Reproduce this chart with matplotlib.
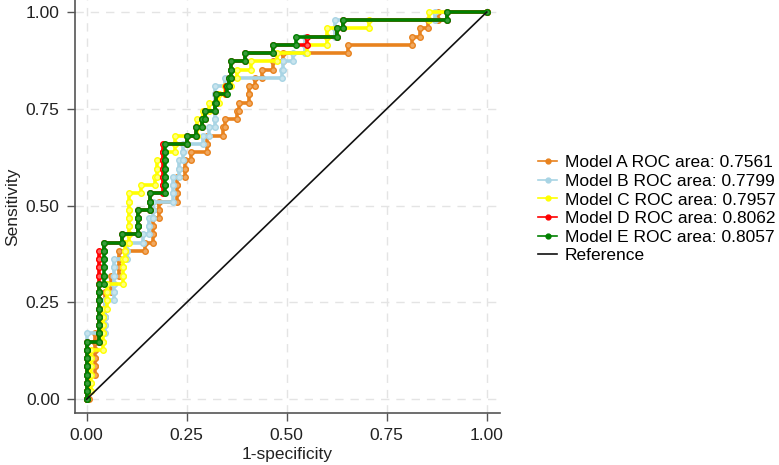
import numpy as np
import matplotlib
matplotlib.use('Agg')
import matplotlib.pyplot as plt
from matplotlib.lines import Line2D

plt.rcParams['font.family'] = ['Liberation Sans', 'DejaVu Sans']

N_POS = 47  # positive cases: one vertical step per case

# fpr at which the curve first reaches k true positives (k = 0..47)
fpr_A = [0, 0.005, 0.005, 0.005, 0.02, 0.02, 0.02, 0.02, 0.02, 0.035,
         0.035, 0.045, 0.045, 0.045, 0.06, 0.06, 0.08, 0.08, 0.08, 0.145,
         0.165, 0.165, 0.165, 0.18, 0.18, 0.225, 0.225, 0.225, 0.245, 0.245,
         0.26, 0.3, 0.3, 0.34, 0.345, 0.375, 0.38, 0.405, 0.405, 0.42,
         0.4375, 0.466, 0.49, 0.654, 0.8125, 0.833, 0.853, 0.878]
fpr_B = [0, 0, 0, 0, 0, 0, 0, 0, 0, 0.045,
         0.045, 0.045, 0.045, 0.068, 0.068, 0.068, 0.068, 0.068, 0.1, 0.1,
         0.14, 0.155, 0.155, 0.165, 0.165, 0.215, 0.215, 0.215, 0.23, 0.23,
         0.24, 0.24, 0.29, 0.305, 0.32, 0.32, 0.32, 0.32, 0.32, 0.345,
         0.4875, 0.49, 0.515, 0.545, 0.545, 0.62, 0.62, 0.87]
fpr_C = [0, 0, 0.01, 0.01, 0.01, 0.01, 0.01, 0.04, 0.04, 0.04,
         0.04, 0.04, 0.052, 0.052, 0.052, 0.09, 0.09, 0.09, 0.097, 0.097,
         0.105, 0.105, 0.105, 0.105, 0.105, 0.105, 0.135, 0.17, 0.175, 0.175,
         0.19, 0.222, 0.222, 0.275, 0.275, 0.29, 0.305, 0.33, 0.346, 0.362,
         0.377, 0.41, 0.477, 0.55, 0.6, 0.6, 0.705, 0.855]
fpr_D = [0, 0, 0, 0, 0, 0, 0, 0, 0.03, 0.03,
         0.03, 0.03, 0.03, 0.03, 0.03, 0.03, 0.03, 0.03, 0.03, 0.043,
         0.088, 0.129, 0.129, 0.129, 0.158, 0.158, 0.19, 0.19, 0.19, 0.19,
         0.19, 0.19, 0.25, 0.273, 0.2875, 0.296, 0.32, 0.324, 0.348, 0.355,
         0.36, 0.362, 0.3955, 0.466, 0.55, 0.626, 0.641, 0.901]
fpr_E = [0, 0, 0, 0, 0, 0, 0, 0, 0.03, 0.03,
         0.03, 0.03, 0.03, 0.03, 0.03, 0.043, 0.043, 0.043, 0.043, 0.043,
         0.088, 0.129, 0.129, 0.129, 0.158, 0.158, 0.196, 0.196, 0.196, 0.196,
         0.196, 0.196, 0.25, 0.273, 0.2875, 0.296, 0.32, 0.324, 0.352, 0.355,
         0.36, 0.362, 0.3955, 0.466, 0.524, 0.626, 0.641, 0.901]

labels = ['Model A ROC area: 0.7561', 'Model B ROC area: 0.7799',
          'Model C ROC area: 0.7957', 'Model D ROC area: 0.8062',
          'Model E ROC area: 0.8057']
colors = ['#E8821E', '#A8D4E4', '#FFFF00', '#FF0000', '#008000']
faces = ['#F0A860', '#C8E4EE', '#FFFF80', '#FF6060', '#3A9A3A']
ticks = [0, 0.25, 0.5, 0.75, 1.0]
tick_labels = ['0.00', '0.25', '0.50', '0.75', '1.00']


def roc_path(fpr):
    # corner points of the empirical ROC staircase
    F = np.append(fpr, 1.0)
    k = np.arange(N_POS + 1)
    xs = np.repeat(F, 2)[1:-1]
    ys = np.repeat(k, 2) / N_POS
    return xs, ys


fig = plt.figure(figsize=(7.79, 4.65), dpi=100)
ax = fig.add_axes([75/779, 52/465, 425/779, 413/465])

for y in ticks:
    ax.axhline(y, color='#E4E4E4', lw=1.0, ls=(0, (6, 5)), zorder=0)
    ax.axvline(y, color='#E4E4E4', lw=1.0, ls=(0, (6, 5)), zorder=0)

handles = []
for fpr, c, fc, lab in zip([fpr_A, fpr_B, fpr_C, fpr_D, fpr_E], colors, faces, labels):
    xs, ys = roc_path(fpr)
    ax.plot(xs, ys, color=c, lw=2.6, marker='o', ms=4.0,
            mfc=fc, mec=c, mew=1.0, solid_joinstyle='miter')
    handles.append(Line2D([], [], color=c, lw=1.2, marker='o', ms=3.5,
                          mfc=c, mec=c, label=lab))

ax.plot([0, 1], [0, 1], color='#111111', lw=1.2)
handles.append(Line2D([], [], color='#111111', lw=1.2, label='Reference'))

ax.set_xlim(-0.029, 1.033)
ax.set_ylim(-0.0354, 1.031)
ax.set_xticks(ticks)
ax.set_xticklabels(tick_labels)
ax.set_yticks(ticks)
ax.set_yticklabels(tick_labels)
ax.tick_params(direction='out', length=6, width=1.0, color='#555555',
               labelsize=12.5, labelcolor='#222222', pad=5)
for s in ['top', 'right']:
    ax.spines[s].set_visible(False)
for s in ['left', 'bottom']:
    ax.spines[s].set_color('#555555')
    ax.spines[s].set_linewidth(1.2)

ax.set_xlabel('1-specificity', fontsize=12.5, color='#222222', labelpad=3)
ax.set_ylabel('Sensitivity', fontsize=12.5, color='#222222', labelpad=4)

fig.legend(handles=handles, loc='center left', bbox_to_anchor=(538/779, 0.55),
           frameon=False, fontsize=12.5, handlelength=1.1, handletextpad=0.45,
           labelspacing=0.2, borderpad=0, borderaxespad=0, numpoints=1)

fig.savefig('out.png', dpi=100)
